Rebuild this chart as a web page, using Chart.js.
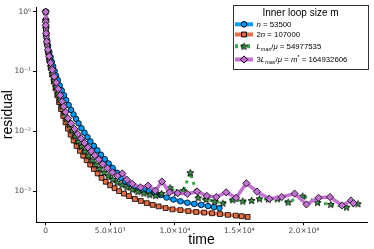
<!DOCTYPE html>
<html>
<head>
<meta charset="utf-8">
<script src="https://cdn.jsdelivr.net/npm/chart.js@4.4.1/dist/chart.umd.min.js"></script>
<style>
  html, body { margin: 0; padding: 0; background: #fff; }
  #wrap { width: 374px; height: 249px; }
</style>
</head>
<body>
<div id="wrap"><canvas id="residualChart" width="374" height="249"></canvas></div>
<script>
// series: n = 53500
const timeN = [0, 8, 23, 54, 115, 192, 283, 383, 475, 575, 689, 804, 935, 1088, 1241, 1417, 1586, 1777, 1969, 2160, 2352, 2543, 2773, 3003, 3233, 3462, 3730, 3999, 4282, 4573, 4879, 5186, 5531, 5837, 6143, 6450, 6833, 7216, 7599, 7982, 8441, 8901, 9361, 9897, 10433, 10970, 11506, 12042, 12578, 13037, 13459];
const resN = [1, 0.739, 0.567, 0.435, 0.333, 0.266, 0.212, 0.175, 0.145, 0.1223, 0.1019, 0.0853, 0.0719, 0.0584, 0.0483, 0.040, 0.0331, 0.0274, 0.0227, 0.0191, 0.0161, 0.0136, 0.01125, 0.00948, 0.0080, 0.00675, 0.00569, 0.0048, 0.00405, 0.00341, 0.00288, 0.00243, 0.00201, 0.00166, 0.00143, 0.0013, 0.0012, 0.00112, 0.00105, 0.000996, 0.000923, 0.000857, 0.000778, 0.000722, 0.000675, 0.000637, 0.000609, 0.000586, 0.00056, 0.000539, 0.000519];

// series: 2n = 107000
const time2N = [0, 5, 15, 46, 107, 184, 276, 383, 498, 628, 758, 896, 1034, 1187, 1356, 1532, 1724, 1930, 2160, 2390, 2643, 2903, 3171, 3447, 3730, 4022, 4328, 4650, 4994, 5339, 5684, 6067, 6450, 6909, 7369, 7829, 8288, 8748, 9284, 9820, 10433, 11046, 11659, 12271, 12884, 13497, 14110, 14723, 15182, 15642];
const res2N = [1, 0.711, 0.525, 0.388, 0.2866, 0.2117, 0.1563, 0.1155, 0.0886, 0.0679, 0.0521, 0.040, 0.0307, 0.02353, 0.01805, 0.01411, 0.01104, 0.00879, 0.00701, 0.00569, 0.00471, 0.0039, 0.00328, 0.00277, 0.00234, 0.00197, 0.00166, 0.00143, 0.00125, 0.001116, 0.000996, 0.000906, 0.000824, 0.000736, 0.000682, 0.000627, 0.000586, 0.000554, 0.000519, 0.000494, 0.00048, 0.000462, 0.000446, 0.000436, 0.000425, 0.000412, 0.0004, 0.000388, 0.000379, 0.000369];

// series: Lmax/mu = 54977535
const timeL = [0, 4, 15, 46, 107, 184, 276, 383, 506, 643, 781, 935, 1088, 1256, 1432, 1624, 1831, 2045, 2275, 2520, 2773, 3041, 3309, 3593, 3884, 4190, 4512, 4841, 5186, 5531, 5914, 6297, 6718, 7139, 7599, 8058, 8518, 8978, 9629, 10127, 10663, 11199, 11812, 12425, 13091, 13727, 14493, 15259, 15948, 16561, 17250, 17940, 18782, 19908, 21057, 22076, 23302, 24183];
const resL = [1, 0.711, 0.525, 0.388, 0.2866, 0.2117, 0.1594, 0.1223, 0.0938, 0.0719, 0.0562, 0.0431, 0.0337, 0.02637, 0.0206, 0.0161, 0.01284, 0.01023, 0.0083, 0.00674, 0.00558, 0.00462, 0.0039, 0.00328, 0.00277, 0.00238, 0.002046, 0.00179, 0.00157, 0.0014, 0.001274, 0.001159, 0.001054, 0.000977, 0.000923, 0.000873, 0.00084, 0.000906, 0.001137, 0.000941, 0.001015, 0.00203, 0.00077, 0.000722, 0.000677, 0.000627, 0.000714, 0.000677, 0.000695, 0.000742, 0.000736, 0.000742, 0.000652, 0.000824, 0.000645, 0.000597, 0.000539, 0.000613];

// series: 3Lmax/mu = m* = 164932606
const time3L = [0, 3, 6, 31, 77, 169, 268, 375, 513, 666, 820, 973, 1126, 1279, 1394, 1547, 1724, 1969, 2237, 2490, 2750, 3003, 3271, 3539, 3807, 4113, 4420, 4788, 5171, 5554, 5937, 6297, 6703, 7346, 7928, 8495, 9001, 9590, 10226, 10969, 11735, 12478, 13214, 13980, 14746, 15542, 16369, 17327, 18285, 19280, 20199, 21134, 22023, 22957, 23646, 23838];
const res3L = [1, 0.677, 0.595, 0.435, 0.3174, 0.231, 0.1799, 0.1395, 0.1071, 0.0821, 0.0654, 0.0512, 0.040, 0.0313, 0.02587, 0.021, 0.01642, 0.01349, 0.01091, 0.00896, 0.00755, 0.00637, 0.00537, 0.00462, 0.00397, 0.00337, 0.00282, 0.0024, 0.002046, 0.00179, 0.00197, 0.00154, 0.001323, 0.00115, 0.001236, 0.001015, 0.001444, 0.000952, 0.000923, 0.000896, 0.000985, 0.00083, 0.000794, 0.000952, 0.00077, 0.00135, 0.000977, 0.000742, 0.000794, 0.000906, 0.000597, 0.00077, 0.000794, 0.000575, 0.000695, 0.000627];

const xTicks = [0, 5000, 10000, 15000, 20000];
const xTickLabels = ['0', '5.0×10³', '1.0×10⁴', '1.5×10⁴', '2.0×10⁴'];
const yTicks = [1, 0.1, 0.01, 0.001];
const yTickLabels = ['10⁰', '10⁻¹', '10⁻²', '10⁻³'];

const legendTitle = 'Inner loop size m';
// rich text pieces: i = italic, sub / sup
const legendLabels = [
    [{ t: 'n', i: 1 }, { t: ' = 53500' }],
    [{ t: '2' }, { t: 'n', i: 1 }, { t: ' = 107000' }],
    [{ t: 'L', i: 1 }, { t: 'max', i: 1, sub: 1 }, { t: '/' }, { t: 'μ', i: 1 }, { t: ' = 54977535' }],
    [{ t: '3' }, { t: 'L', i: 1 }, { t: 'max', i: 1, sub: 1 }, { t: '/' }, { t: 'μ', i: 1 }, { t: ' = ' }, { t: 'm', i: 1 }, { t: '*', sup: 1 }, { t: ' = 164932606' }]
];

const BLUE = '#009AFA', ORANGE = '#E36F47', GREEN = '#3EA44E', PURPLE = '#C371D2';
const FONT = '"Liberation Sans", Arial, sans-serif';

// filled 5 point star marker
function makeStar(fill) {
    const c = document.createElement('canvas');
    c.width = 9; c.height = 9;
    const g = c.getContext('2d');
    g.beginPath();
    for (let k = 0; k < 10; k++) {
        const r = k % 2 === 0 ? 3.6 : 1.5;
        const a = -Math.PI / 2 + k * Math.PI / 5;
        const px = 4.5 + r * Math.cos(a), py = 4.8 + r * Math.sin(a);
        if (k === 0) g.moveTo(px, py); else g.lineTo(px, py);
    }
    g.closePath();
    g.fillStyle = fill;
    g.fill();
    g.lineWidth = 0.9;
    g.strokeStyle = '#000';
    g.stroke();
    return c;
}
const starImg = makeStar(GREEN);

function pts(xs, ys) {
    return xs.map((x, k) => ({ x: x, y: ys[k] }));
}

const legendPlugin = {
    id: 'juliaLegend',
    afterDraw(chart) {
        const ctx = chart.ctx;
        const bx = 233, by = 5, bw = 135, bh = 64;
        ctx.save();
        ctx.fillStyle = '#fff';
        ctx.fillRect(bx, by, bw, bh);
        ctx.strokeStyle = '#333';
        ctx.lineWidth = 1;
        ctx.strokeRect(bx + 0.5, by + 0.5, bw, bh);

        ctx.fillStyle = '#000';
        ctx.font = '10px ' + FONT;
        ctx.textAlign = 'center';
        ctx.textBaseline = 'middle';
        ctx.fillText(legendTitle, bx + bw / 2, 13.5);

        const rows = [24.3, 34.5, 46.3, 59.5];
        chart.data.datasets.forEach((ds, k) => {
            const y = rows[k];
            ctx.save();
            ctx.strokeStyle = ds.borderColor;
            ctx.lineWidth = 4;
            if (ds.borderDash) ctx.setLineDash([3, 3]);
            ctx.beginPath();
            ctx.moveTo(235, y);
            ctx.lineTo(253, y);
            ctx.stroke();
            ctx.restore();
            if (ds.pointStyle === starImg) {
                ctx.drawImage(starImg, 244 - 4.5, y - 4.5);
            } else {
                ctx.fillStyle = ds.pointBackgroundColor;
                ctx.strokeStyle = '#000';
                ctx.lineWidth = 1;
                Chart.helpers.drawPoint(ctx, {
                    pointStyle: ds.pointStyle, radius: ds.pointRadius, borderWidth: 1, rotation: 0
                }, 244, y);
            }
            // rich text
            let x = 256.5;
            ctx.textAlign = 'left';
            ctx.textBaseline = 'alphabetic';
            ctx.fillStyle = '#000';
            legendLabels[k].forEach(p => {
                const size = (p.sub || p.sup) ? 5.5 : 7.8;
                ctx.font = (p.i ? 'italic ' : '') + size + 'px ' + FONT;
                const dy = p.sub ? 1.8 : (p.sup ? -3.5 : 0);
                ctx.fillText(p.t, x, y + 2.8 + dy);
                x += ctx.measureText(p.t).width;
            });
        });
        ctx.restore();
    }
};

const ctx = document.getElementById('residualChart').getContext('2d');
new Chart(ctx, {
    type: 'line',
    data: {
        datasets: [
            {
                label: 'n = 53500',
                data: pts(timeN, resN),
                borderColor: BLUE,
                backgroundColor: BLUE,
                borderWidth: 3.5,
                pointStyle: 'circle',
                pointRadius: 2.8,
                pointBackgroundColor: BLUE,
                pointBorderColor: '#000',
                pointBorderWidth: 0.8,
                order: 4
            },
            {
                label: '2n = 107000',
                data: pts(time2N, res2N),
                borderColor: ORANGE,
                backgroundColor: ORANGE,
                borderWidth: 3.5,
                pointStyle: 'rect',
                pointRadius: 3.4,
                pointBackgroundColor: ORANGE,
                pointBorderColor: '#000',
                pointBorderWidth: 0.8,
                order: 3
            },
            {
                label: 'Lmax/mu = 54977535',
                data: pts(timeL, resL),
                borderColor: GREEN,
                backgroundColor: GREEN,
                borderWidth: 3,
                borderDash: [3, 4],
                pointStyle: starImg,
                pointRadius: 4,
                order: 2
            },
            {
                label: '3Lmax/mu = m* = 164932606',
                data: pts(time3L, res3L),
                borderColor: PURPLE,
                backgroundColor: PURPLE,
                borderWidth: 3.5,
                pointStyle: 'rectRot',
                pointRadius: 3.6,
                pointBackgroundColor: PURPLE,
                pointBorderColor: '#000',
                pointBorderWidth: 0.8,
                order: 1
            }
        ]
    },
    options: {
        responsive: false,
        animation: false,
        devicePixelRatio: 1,
        layout: { padding: { top: 3, right: 3.3, left: 0, bottom: 0 } },
        plugins: {
            legend: { display: false },
            tooltip: { enabled: false }
        },
        elements: { line: { tension: 0 } },
        scales: {
            x: {
                type: 'linear',
                min: -751,
                max: 24887,
                afterFit: s => { s.height = 26.7; },
                afterBuildTicks: s => { s.ticks = xTicks.map(v => ({ value: v })); },
                grid: { drawOnChartArea: false, drawTicks: true, tickLength: 3, color: '#000' },
                border: { color: '#000', width: 1 },
                ticks: {
                    padding: 1,
                    maxRotation: 0,
                    color: '#444',
                    font: { family: '"DejaVu Sans"', size: 7.5 },
                    callback: v => xTickLabels[xTicks.indexOf(v)]
                },
                title: {
                    display: true,
                    text: 'time',
                    color: '#000',
                    padding: 0,
                    font: { family: FONT, size: 14 }
                }
            },
            y: {
                type: 'logarithmic',
                min: 3e-4,
                max: 1.2,
                afterFit: s => { s.width = 36; },
                afterBuildTicks: s => { s.ticks = yTicks.map(v => ({ value: v })); },
                grid: { drawOnChartArea: false, drawTicks: true, tickLength: 3, color: '#000' },
                border: { color: '#000', width: 1 },
                ticks: {
                    padding: 2,
                    color: '#444',
                    font: { family: '"DejaVu Sans"', size: 7.5 },
                    callback: v => yTickLabels[yTicks.indexOf(v)]
                },
                title: {
                    display: true,
                    text: 'residual',
                    color: '#000',
                    padding: 0,
                    font: { family: FONT, size: 14 }
                }
            }
        }
    },
    plugins: [legendPlugin]
});
</script>
</body>
</html>
